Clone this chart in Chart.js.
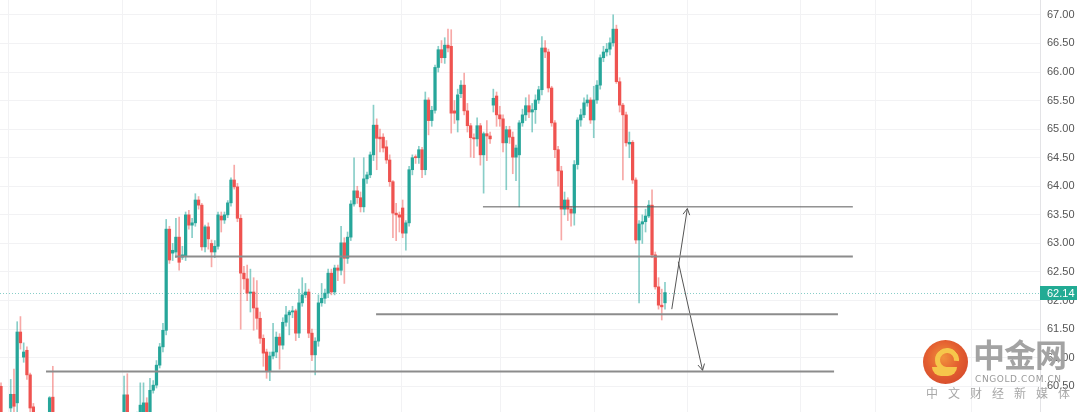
<!DOCTYPE html>
<html>
<head>
<meta charset="utf-8">
<script src="https://cdn.jsdelivr.net/npm/chart.js@4.4.0/dist/chart.umd.min.js"></script>
<style>
  html, body { margin: 0; padding: 0; background: #fff; }
  #wrap { position: relative; width: 1080px; height: 412px; overflow: hidden; }
  .logo { position: absolute; left: 923px; top: 340px; width: 45px; height: 44px; border-radius: 50%;
    background: radial-gradient(circle at 45% 40%, #f08a2c 0%, #e2521f 45%, #c9301a 100%); opacity: .92; }
  .logo .swirl { position: absolute; left: 12px; top: 8px; width: 14px; height: 14px; border-radius: 50%;
    border: 5px solid #f6c23c; border-bottom-color: transparent; transform: rotate(-40deg); }
  .logo .tail { position: absolute; left: 9px; top: 27px; width: 25px; height: 9px; border-radius: 0 0 14px 14px;
    background: #f6c23c; }
  .wm { position: absolute; font-family: "Noto Sans CJK SC", sans-serif; color: #a3a3a3; white-space: nowrap; line-height: 1; }
  .wm-big { left: 973px; top: 337px; font-size: 32px; font-weight: 700; letter-spacing: -1px; }
  .wm-url { left: 975px; top: 375px; font-family: "DejaVu Sans", sans-serif; font-size: 9px; letter-spacing: 0.6px; color: #9a9a9a; }
  .wm-sub { left: 926px; top: 387px; font-size: 12px; letter-spacing: 10px; color: #a8a8a8; }
</style>
</head>
<body>
<div id="wrap">
  <canvas id="myChart" width="1080" height="412"></canvas>
  <div class="logo"><div class="swirl"></div><div class="tail"></div></div>
  <div class="wm wm-big">中金网</div>
  <div class="wm wm-url">CNGOLD.COM.CN</div>
  <div class="wm wm-sub">中文财经新媒体</div>
</div>
<script>
// candles (price units)
var openP = [
  60.50, 59.95, 59.80, 60.12, 60.36, 60.21, 61.45, 61.01, 61.13, 60.70,
  60.14, 59.90, 59.75, 59.85, 59.80, 60.00, 60.31, 60.00, 59.78, 59.60,
  59.48, 59.55, 59.38, 59.30, 59.40, 59.52, 59.45, 59.32, 59.42, 59.55,
  59.62, 59.58, 59.50, 59.60, 59.72, 59.68, 59.80, 59.88, 60.00, 60.35,
  60.00, 59.85, 59.92, 60.02, 60.05, 60.21, 60.05, 60.43, 60.52, 60.87,
  61.19, 61.48, 63.25, 62.83, 62.85, 63.11, 62.76, 62.78, 63.50, 63.32,
  63.36, 63.76, 63.67, 62.94, 63.29, 63.00, 62.85, 62.95, 63.48, 63.41,
  63.50, 63.71, 64.11, 63.99, 63.44, 62.48, 62.38, 62.13, 62.15, 61.87,
  61.69, 61.34, 61.10, 60.77, 61.03, 61.10, 61.36, 61.22, 61.62, 61.75, 61.80,
  61.82, 61.43, 61.96, 62.10, 62.15, 61.43, 61.05, 61.29, 61.96, 62.04,
  62.13, 62.48, 62.15, 62.57, 62.53, 63.01, 62.74, 63.11, 63.69, 63.92, 63.80,
  63.64, 64.13, 64.20, 64.55, 65.07, 64.86, 64.86, 64.69, 64.46, 64.08,
  63.53, 63.50, 63.62, 63.18, 63.36, 64.29, 64.51, 64.50, 64.64, 64.29,
  65.51, 65.15, 65.33, 66.08, 66.39, 66.25, 66.47, 66.45, 65.32, 65.16,
  65.62, 65.77, 65.32, 65.06, 64.85, 64.83, 65.06, 64.55, 64.92,
  64.88, 65.42, 65.58, 65.25, 65.18, 64.76, 64.99, 64.86, 64.51, 64.55,
  65.11, 65.25, 65.41, 65.30, 65.34, 65.51, 65.69, 66.42, 66.35,
  65.72, 65.11, 64.64, 64.27, 63.60, 63.76, 63.60, 63.53, 64.38, 65.16,
  65.25, 65.46, 65.51, 65.16, 65.51, 65.77, 66.25, 66.35, 66.40, 66.51,
  66.75, 65.83, 65.42, 65.25, 64.74, 64.77, 64.11, 63.06, 63.34, 63.38,
  63.48, 63.67, 62.80, 62.24, 61.92, 61.96
];
var highP = [
  60.56, 60.00, 59.95, 60.62, 60.80, 61.63, 61.72, 61.26, 61.19, 60.73,
  60.20, 59.98, 59.90, 60.00, 60.02, 60.32, 60.85, 60.02, 59.85, 59.70,
  59.62, 59.60, 59.50, 59.45, 59.58, 59.65, 59.55, 59.48, 59.60, 59.70,
  59.75, 59.68, 59.66, 59.80, 59.88, 59.85, 59.95, 60.00, 60.68, 60.72,
  60.02, 59.95, 60.05, 60.56, 60.56, 60.30, 60.64, 60.60, 60.95, 61.25,
  61.60, 63.42, 63.30, 63.00, 63.44, 63.46, 62.95, 63.55, 63.58, 63.44,
  63.87, 63.82, 63.70, 63.32, 63.36, 63.06, 63.05, 63.55, 63.55, 63.55,
  63.75, 64.15, 64.37, 64.05, 63.50, 62.60, 62.62, 62.55, 62.40, 62.35,
  61.80, 61.40, 61.15, 61.10, 61.60, 61.45, 61.42, 61.70, 61.90, 61.83, 61.90,
  61.85, 62.20, 62.40, 62.30, 62.20, 61.50, 61.35, 62.10, 62.30, 62.20,
  62.55, 62.55, 62.62, 62.62, 63.30, 63.10, 63.20, 63.75, 64.50, 64.00, 63.90,
  64.50, 64.25, 64.60, 65.42, 65.18, 65.00, 64.92, 64.80, 64.55, 64.10,
  63.70, 63.55, 63.76, 63.40, 64.35, 64.55, 64.55, 64.70, 64.68, 65.65,
  65.55, 65.40, 66.12, 66.45, 66.55, 66.60, 66.75, 66.74, 65.50, 65.70,
  65.85, 65.98, 65.45, 65.10, 64.92, 65.20, 65.10, 64.95, 65.15,
  64.95, 65.70, 65.65, 65.40, 65.25, 65.05, 65.05, 64.95, 64.72, 65.15,
  65.35, 65.55, 65.60, 65.45, 65.60, 65.75, 66.62, 66.55, 66.40,
  65.75, 65.15, 64.70, 64.35, 63.90, 63.80, 63.65, 64.45, 65.20, 65.35,
  65.55, 65.60, 65.55, 65.75, 65.85, 66.30, 66.45, 66.50, 66.60, 67.00,
  66.82, 65.90, 65.45, 65.30, 64.95, 64.80, 64.15, 63.40, 63.50, 63.60,
  63.75, 63.94, 62.85, 62.40, 62.20, 62.32
];
var lowP = [
  59.80, 59.70, 59.65, 59.90, 60.00, 60.05, 61.15, 60.92, 60.62, 60.00,
  59.80, 59.70, 59.60, 59.72, 59.70, 59.90, 59.90, 59.70, 59.55, 59.40,
  59.35, 59.30, 59.20, 59.15, 59.30, 59.40, 59.25, 59.20, 59.35, 59.45,
  59.50, 59.40, 59.42, 59.52, 59.60, 59.58, 59.70, 59.75, 59.90, 59.90,
  59.80, 59.75, 59.85, 59.95, 60.00, 59.98, 60.00, 60.38, 60.47, 60.82,
  61.10, 61.40, 62.65, 62.70, 62.75, 62.53, 62.72, 62.70, 63.25, 63.10,
  63.30, 63.60, 62.88, 62.85, 62.90, 62.59, 62.75, 62.90, 63.20, 63.35,
  63.45, 63.65, 63.95, 63.38, 61.50, 62.20, 62.00, 61.80, 61.48, 61.50,
  61.25, 60.85, 60.64, 60.60, 60.98, 61.00, 60.80, 61.15, 61.55, 61.40, 61.70,
  61.30, 61.35, 61.90, 62.05, 61.35, 60.95, 60.70, 61.20, 61.90, 61.95,
  62.05, 62.10, 62.10, 62.35, 62.45, 62.30, 62.65, 63.05, 63.65, 63.70, 63.55,
  63.55, 64.05, 64.15, 64.45, 64.29, 64.60, 64.60, 64.40, 64.00, 63.10,
  63.05, 63.20, 63.10, 62.88, 63.30, 64.20, 64.40, 64.40, 64.15, 64.20,
  64.90, 65.05, 65.28, 66.00, 66.16, 66.15, 66.35, 64.93, 65.10, 64.95,
  65.55, 65.25, 64.95, 64.51, 64.50, 64.70, 64.37, 63.88, 64.45,
  64.75, 65.30, 65.05, 65.05, 64.60, 63.94, 64.75, 64.22, 64.10, 63.64,
  65.05, 65.15, 65.20, 64.95, 65.10, 65.45, 65.60, 66.25, 65.65,
  65.05, 64.50, 64.00, 63.06, 63.50, 63.40, 63.30, 63.32, 64.30, 65.05,
  65.20, 65.40, 65.10, 64.85, 65.45, 65.70, 66.18, 66.28, 66.30, 66.45,
  65.80, 65.30, 64.11, 64.70, 64.50, 64.05, 63.00, 61.96, 63.00, 63.20,
  63.45, 62.75, 62.20, 61.85, 61.66, 61.85
];
var closeP = [
  59.95, 59.80, 59.90, 60.36, 60.15, 61.45, 61.26, 61.10, 60.70, 60.12,
  59.90, 59.75, 59.85, 59.80, 59.95, 60.30, 60.00, 59.78, 59.60, 59.48,
  59.55, 59.38, 59.30, 59.40, 59.52, 59.45, 59.32, 59.42, 59.55, 59.62,
  59.58, 59.50, 59.60, 59.72, 59.68, 59.80, 59.88, 59.95, 60.35, 60.00,
  59.85, 59.92, 60.00, 60.17, 60.21, 60.05, 60.43, 60.52, 60.87, 61.19,
  61.48, 63.25, 62.71, 62.88, 63.11, 62.67, 62.80, 63.50, 63.32, 63.36,
  63.76, 63.67, 62.94, 63.29, 63.08, 62.85, 62.95, 63.50, 63.41, 63.50,
  63.71, 64.11, 63.99, 63.44, 62.48, 62.38, 62.13, 62.15, 61.87, 61.69,
  61.34, 61.08, 60.77, 61.03, 61.10, 61.36, 61.22, 61.62, 61.75, 61.80, 61.82,
  61.43, 61.96, 62.10, 62.15, 61.43, 61.05, 61.29, 61.96, 62.04, 62.13,
  62.48, 62.15, 62.57, 62.53, 63.01, 62.74, 63.11, 63.69, 63.92, 63.80, 63.64,
  64.13, 64.20, 64.55, 65.07, 64.84, 64.83, 64.67, 64.46, 64.08, 63.53,
  63.50, 63.46, 63.18, 63.36, 64.29, 64.50, 64.50, 64.64, 64.29, 65.51,
  65.15, 65.33, 66.08, 66.39, 66.25, 66.47, 66.42, 65.28, 65.28, 65.60,
  65.77, 65.32, 65.06, 64.85, 64.83, 65.06, 64.55, 64.92, 64.88,
  64.83, 65.54, 65.25, 65.18, 64.76, 64.99, 64.86, 64.51, 64.67, 65.11,
  65.25, 65.41, 65.30, 65.34, 65.51, 65.69, 66.42, 66.35, 65.72,
  65.11, 64.64, 64.27, 63.60, 63.76, 63.60, 63.53, 64.38, 65.16, 65.25,
  65.46, 65.51, 65.16, 65.51, 65.77, 66.25, 66.35, 66.40, 66.51, 66.75,
  65.83, 65.42, 65.25, 64.76, 64.77, 64.11, 63.06, 63.34, 63.38, 63.48,
  63.67, 62.80, 62.24, 61.92, 61.89, 62.14
];

// drawn support / resistance levels (price, start candle, end candle)
var levelPrice = [63.64, 62.77, 61.76, 60.76];
var levelFrom  = [148.8, 53.7, 115.8, 13.9];
var levelTo    = [263.0, 263.0, 258.4, 257.2];
var levelColor = ['#5b5b5b', '#8c8c8c', '#8c8c8c', '#8c8c8c'];
var levelWidth = [1, 2, 2, 2];

// arrows: [candle, price] start -> end
var arrowUp   = [[207.1, 61.85], [211.9, 63.61]];
var arrowDown = [[209.1, 62.68], [216.6, 60.78]];

var yTicks = [60.5, 61, 61.5, 62, 62.5, 63, 63.5, 64, 64.5, 65, 65.5, 66, 66.5, 67];
var xGrid = [2.2, 37.4, 66.4, 95.7, 123.8, 154.1, 183.1, 211.8, 246.7, 270.1, 299.5];

var upColor = '#26a69a';
var downColor = '#ef5350';
var lastPrice = closeP[closeP.length - 1];

var bodies = [], wicks = [], bodyColors = [], wickColors = [];
for (var i = 0; i < openP.length; i++) {
  var up = closeP[i] >= openP[i];
  bodies.push({x: i, y: [openP[i], closeP[i]]});
  wicks.push({x: i, y: [lowP[i], highP[i]]});
  bodyColors.push(up ? upColor : downColor);
  wickColors.push(up ? 'rgba(38,166,154,0.55)' : 'rgba(239,83,80,0.5)');
}

var datasets = [];
for (var k = 0; k < levelPrice.length; k++) {
  datasets.push({
    type: 'line',
    data: [{x: levelFrom[k], y: levelPrice[k]}, {x: levelTo[k], y: levelPrice[k]}],
    borderColor: levelColor[k],
    borderWidth: levelWidth[k],
    pointRadius: 0,
    fill: false,
    order: 0
  });
}
[arrowUp, arrowDown].forEach(function (a) {
  datasets.push({
    type: 'line',
    arrow: true,
    data: [{x: a[0][0], y: a[0][1]}, {x: a[1][0], y: a[1][1]}],
    borderColor: '#555',
    borderWidth: 1,
    pointRadius: 0,
    fill: false,
    order: 0
  });
});
datasets.push({
  type: 'bar',
  data: bodies,
  backgroundColor: bodyColors,
  barThickness: 2.6,
  minBarLength: 1,
  grouped: false,
  order: 1
});
datasets.push({
  type: 'bar',
  data: wicks,
  backgroundColor: wickColors,
  barThickness: 1,
  grouped: false,
  order: 2
});

var extras = {
  id: 'extras',
  beforeDatasetsDraw: function (chart) {
    var c = chart.ctx, a = chart.chartArea;
    var y = Math.round(chart.scales.y.getPixelForValue(lastPrice)) + 0.5;
    c.save();
    c.strokeStyle = 'rgba(38,166,154,0.55)';
    c.lineWidth = 1;
    c.setLineDash([1, 2]);
    c.beginPath();
    c.moveTo(a.left, y);
    c.lineTo(a.right, y);
    c.stroke();
    c.restore();
  },
  afterDatasetsDraw: function (chart) {
    var c = chart.ctx;
    chart.data.datasets.forEach(function (ds, i) {
      if (!ds.arrow) return;
      var pts = chart.getDatasetMeta(i).data;
      var p0 = pts[0], p1 = pts[1];
      var ang = Math.atan2(p1.y - p0.y, p1.x - p0.x);
      var len = 7, spread = 0.5;
      c.save();
      c.strokeStyle = '#555';
      c.lineWidth = 1;
      c.beginPath();
      c.moveTo(p1.x - len * Math.cos(ang - spread), p1.y - len * Math.sin(ang - spread));
      c.lineTo(p1.x, p1.y);
      c.lineTo(p1.x - len * Math.cos(ang + spread), p1.y - len * Math.sin(ang + spread));
      c.stroke();
      c.restore();
    });
  },
  afterDraw: function (chart) {
    var c = chart.ctx, a = chart.chartArea;
    var y = chart.scales.y.getPixelForValue(lastPrice);
    c.save();
    c.fillStyle = '#22ab94';
    c.fillRect(a.right, Math.round(y) - 7, 37, 14);
    c.fillStyle = '#fff';
    c.font = '11px "Liberation Sans", Arial, sans-serif';
    c.textBaseline = 'middle';
    c.fillText(lastPrice.toFixed(2), a.right + 7, Math.round(y) + 0.5);
    c.restore();
  }
};

var ctx = document.getElementById('myChart').getContext('2d');
var myChart = new Chart(ctx, {
  type: 'bar',
  data: { datasets: datasets },
  options: {
    responsive: false,
    animation: false,
    layout: { padding: 0 },
    plugins: { legend: { display: false }, tooltip: { enabled: false } },
    scales: {
      x: {
        type: 'linear',
        min: -0.309,
        max: 320.78,
        offset: false,
        grid: { color: '#f2f2f4', offset: false, drawTicks: false },
        border: { display: false },
        ticks: { display: false },
        afterBuildTicks: function (scale) {
          scale.ticks = xGrid.map(function (v) { return {value: v}; });
        },
        afterFit: function (scale) {
          scale.height = 0;
          scale.paddingLeft = 0;
          scale.paddingRight = 0;
        }
      },
      y: {
        type: 'linear',
        position: 'right',
        min: 60.05,
        max: 67.26,
        grid: { color: '#f2f2f4', drawTicks: false },
        border: { display: true, color: '#e3e3e6' },
        ticks: {
          stepSize: 0.5,
          includeBounds: false,
          padding: 7,
          color: '#555',
          font: { family: '"Liberation Sans", Arial, sans-serif', size: 11 },
          callback: function (v) { return v.toFixed(2); }
        },
        afterBuildTicks: function (scale) {
          scale.ticks = yTicks.map(function (v) { return {value: v}; });
        },
        afterFit: function (scale) {
          scale.width = 40;
          scale.paddingTop = 0;
          scale.paddingBottom = 0;
        }
      }
    }
  },
  plugins: [extras]
});
</script>
</body>
</html>
